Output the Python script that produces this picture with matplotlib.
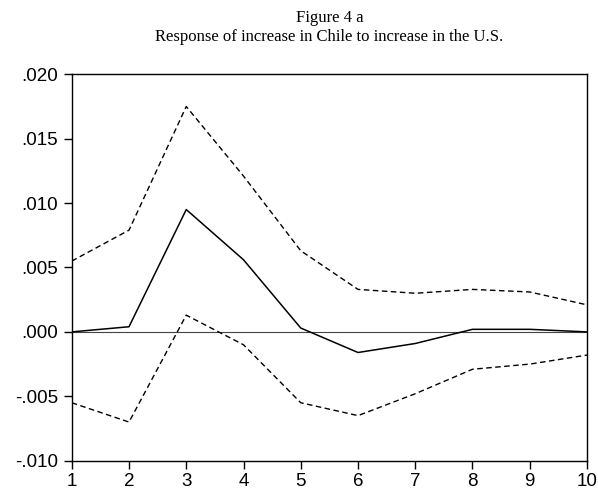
import matplotlib
matplotlib.use("Agg")
import matplotlib.pyplot as plt
from matplotlib.ticker import FuncFormatter, MultipleLocator

periods = [1, 2, 3, 4, 5, 6, 7, 8, 9, 10]
response = [0.0, 0.0004, 0.0095, 0.0056, 0.0003, -0.0016, -0.0009, 0.0002, 0.0002, 0.0]
upper = [0.0055, 0.0079, 0.0175, 0.0121, 0.0063, 0.0033, 0.0030, 0.0033, 0.0031, 0.0021]
lower = [-0.0055, -0.0070, 0.0013, -0.0010, -0.0055, -0.0065, -0.0048, -0.0029, -0.0025, -0.0018]

fig = plt.figure(figsize=(5.98, 4.91), dpi=100)
ax = fig.add_axes([0.120, 0.0617, 0.8616, 0.787])

ax.axhline(0, color="#444444", lw=0.8, zorder=1)
ax.plot(periods, response, color="black", lw=1.1, zorder=3)
ax.plot(periods, upper, color="black", lw=1.0, dashes=(4, 2.5), zorder=2)
ax.plot(periods, lower, color="black", lw=1.0, dashes=(4, 2.5), zorder=2)

ax.set_xlim(1, 10)
ax.set_ylim(-0.010, 0.020)
ax.xaxis.set_major_locator(MultipleLocator(1))
ax.yaxis.set_major_locator(MultipleLocator(0.005))


def fmt(v, pos):
    s = f"{v:.3f}"
    if s == "-0.000":
        s = "0.000"
    return s.replace("0.", ".", 1)


ax.yaxis.set_major_formatter(FuncFormatter(fmt))
ax.tick_params(direction="out", length=6, width=1.0, labelsize=13.5, color="black")
ax.tick_params(axis="x", pad=2.5)
ax.tick_params(axis="y", pad=4)
for lab in ax.get_xticklabels() + ax.get_yticklabels():
    lab.set_family("Liberation Sans")
for sp in ax.spines.values():
    sp.set_linewidth(1.0)
    sp.set_color("black")

cx = 0.120 + 0.8616 / 2
fig.text(cx, 1 - 18 / 491, "Figure 4 a", ha="center", va="center",
         family="Liberation Serif", fontsize=12)
fig.text(cx, 1 - 37 / 491, "Response of increase in Chile to increase in the U.S.",
         ha="center", va="center", family="Liberation Serif", fontsize=12)

fig.savefig("out.png", dpi=100)
